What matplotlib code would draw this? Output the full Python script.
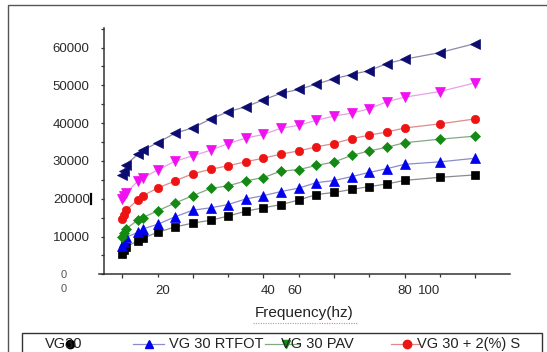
import matplotlib
matplotlib.use('Agg')
import matplotlib.pyplot as plt
from matplotlib.lines import Line2D
from matplotlib.patches import Rectangle
import matplotlib.transforms as mtransforms
from matplotlib.ticker import MultipleLocator

plt.rcParams['font.family'] = ['Liberation Sans', 'DejaVu Sans']

# ---------------- data ----------------
x_pos = [0, 0.05, 0.1, 0.45, 0.58, 1, 1.5, 2, 2.5, 3, 3.5, 4, 4.5, 5, 5.5,
         6, 6.5, 7, 7.5, 8, 9, 10]

vg30 = [5300, 6400, 7300, 8850, 9550, 11100, 12550, 13550, 14300, 15400,
        16700, 17600, 18450, 19650, 21100, 21650, 22450, 23200, 23900,
        24850, 25650, 26300]
vg30_rtfot = [7500, 8600, 9800, 11100, 12000, 13220, 15230, 16970, 17580,
              18450, 19930, 20800, 21900, 22800, 24250, 24800, 25850, 26950,
              27950, 29100, 29750, 30700]
vg30_pav = [9900, 11000, 12000, 14400, 15000, 16790, 18880, 20800, 22710,
            23410, 24720, 25590, 27300, 27700, 28800, 29700, 31450, 32650,
            33600, 34800, 35750, 36550]
vg30_2s = [14700, 15800, 16900, 19750, 20800, 22800, 24720, 26630, 27770,
           28730, 29770, 30730, 31800, 32650, 33700, 34600, 35900, 36800,
           37650, 38700, 39800, 41100]
vg30_pink = [19900, 20700, 21400, 24800, 25500, 27590, 29940, 31340, 32820,
             34560, 36040, 37000, 38650, 39400, 40750, 41850, 42650, 43800,
             45650, 46850, 48350, 50650]
vg30_navy = [26200, 27300, 29000, 31800, 32800, 34820, 37350, 38740, 41100,
             43010, 44320, 46150, 47900, 48900, 50300, 51750, 52850, 53900,
             55750, 56900, 58650, 61050]

series_names = ['VG30', 'VG 30 RTFOT', 'VG 30 PAV', 'VG 30 + 2(%) S', '', '']
series_vals = [vg30, vg30_rtfot, vg30_pav, vg30_2s, vg30_pink, vg30_navy]

ytick_vals = [0, 10000, 20000, 30000, 40000, 50000, 60000]
ytick_labels = ['', '10000', '20000', '30000', '40000', '50000', '60000']
xtick_labels = ['20', '40', '60', '80', '100']
xtick_label_pos = [1.14, 4.13, 4.9, 8.02, 8.7]
x_label = 'Frequency(hz)'

# ---------------- styles ----------------
mk_colors = ['#000000', '#0000ee', '#148a14', '#ee1414', '#f010f0', '#0b0b70']
ln_colors = ['#8c8c8c', '#8c8ccc', '#84a884', '#e08a8a', '#e8a0e8', '#8a8aa8']
markers = ['s', '^', 'D', 'o', 'v', '<']
msizes = [5.4, 6.5, 5.0, 6.0, 6.5, 6.5]

W, H = 547, 352
fig = plt.figure(figsize=(W / 100, H / 100), dpi=100)


def fx(px):
    return px / W


def fy(py):
    return 1 - py / H


ax = fig.add_axes([fx(104), fy(274.3), fx(510) - fx(104), fy(28) - fy(274.3)])

for vals, mc, lc, m, ms in zip(series_vals, mk_colors, ln_colors, markers, msizes):
    ax.plot(x_pos, vals, color=lc, lw=0.9, marker=m, ms=ms, mfc=mc, mec=mc,
            mew=0.5)

ax.set_xlim(-0.519, 10.99)
ax.set_ylim(0, 65160)

for s in ['top', 'right']:
    ax.spines[s].set_visible(False)
for s in ['left', 'bottom']:
    ax.spines[s].set_color('#333333')
    ax.spines[s].set_linewidth(1.1)

ax.set_yticks(ytick_vals)
ax.set_yticklabels(ytick_labels)
ax.yaxis.set_minor_locator(MultipleLocator(5000))
ax.tick_params(axis='y', which='both', direction='out', length=2.4, width=0.9,
               color='#333333', pad=7.9, labelsize=9.5, labelcolor='#2a2a2a')

ax.xaxis.set_major_locator(MultipleLocator(2))
ax.xaxis.set_minor_locator(MultipleLocator(1))
ax.tick_params(axis='x', which='major', direction='out', length=3.0,
               width=0.9, color='#333333', labelbottom=False)
ax.tick_params(axis='x', which='minor', direction='out', length=2.0,
               width=0.9, color='#333333')

trans = mtransforms.blended_transform_factory(ax.transData, ax.transAxes)
lab_y = (274.3 - 290.7) / (274.3 - 28)
for lbl, xp in zip(xtick_labels, xtick_label_pos):
    ax.text(xp, lab_y, lbl, transform=trans, ha='center', va='center',
            fontsize=9.5, color='#2a2a2a')

# x-axis line extending slightly left of the y axis
fig.add_artist(Line2D([fx(99), fx(104)], [fy(274.3), fy(274.3)],
                      transform=fig.transFigure, color='#333333', lw=1.1))

# stray zero labels
fig.text(fx(63.3), fy(275), '0', ha='center', va='center', fontsize=8,
         color='#555555')
fig.text(fx(63.3), fy(289.3), '0', ha='center', va='center', fontsize=8,
         color='#555555')
# stray cursor bar after 20000
fig.add_artist(Line2D([fx(90.6), fx(90.6)], [fy(194), fy(204)],
                      transform=fig.transFigure, color='#000000', lw=1.6))

# x label with spell-check squiggles
fig.text(fx(304.5), fy(312.5), x_label, ha='center', va='center',
         fontsize=11, color='#222222')
fig.add_artist(Line2D([fx(253), fx(317)], [fy(323), fy(323)],
                      transform=fig.transFigure, color='#3aa83a', lw=0.8,
                      ls=(0, (1, 1.2)), alpha=0.7))
fig.add_artist(Line2D([fx(319), fx(357)], [fy(323), fy(323)],
                      transform=fig.transFigure, color='#e04040', lw=0.8,
                      ls=(0, (1, 1.2)), alpha=0.7))

# outer frame of the screenshot
fig.add_artist(Rectangle((fx(7.5), -0.1), 1.2, fy(5) + 0.1,
                         transform=fig.transFigure, fill=False,
                         edgecolor='#555555', lw=1.0, clip_on=False))

# legend box (cut off at bottom)
fig.add_artist(Rectangle((fx(21.5), -0.1), fx(542) - fx(21.5), fy(333) + 0.1,
                         transform=fig.transFigure, fill=False,
                         edgecolor='#333333', lw=1.0, clip_on=False))

leg_y = fy(344)
# (series index, line start, line end, marker x, marker, text x)
leg_entries = [
    (0, None, None, 70, 'o', 44.7),
    (1, 132.6, 164, 149, '^', 169),
    (2, 265, 300, 286, 'v', 281),
    (3, 391, 419, 406.5, 'o', 417),
]
for idx, l0, l1, mx, mk, tx in leg_entries:
    fig.text(fx(tx), leg_y, series_names[idx], ha='left', va='center',
             fontsize=10.5, color='#222222')
    if l0 is not None:
        fig.add_artist(Line2D([fx(l0), fx(l1)], [leg_y, leg_y],
                              transform=fig.transFigure,
                              color=ln_colors[idx], lw=0.9))
    fig.add_artist(Line2D([fx(mx)], [leg_y], transform=fig.transFigure,
                          marker=mk, ms=6, color=mk_colors[idx], lw=0))

fig.savefig('out.png', dpi=100)
